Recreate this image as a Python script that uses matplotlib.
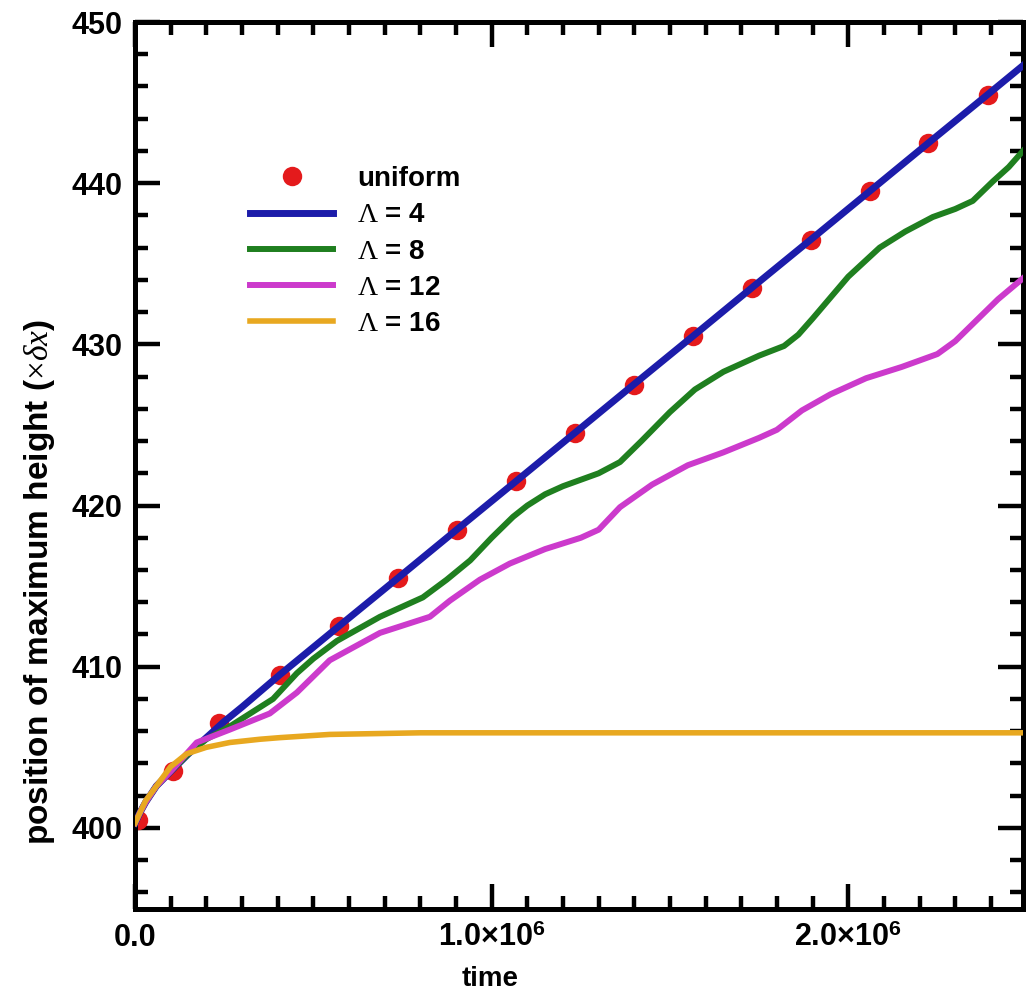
import matplotlib
matplotlib.use("Agg")
import matplotlib.pyplot as plt
from matplotlib.ticker import MultipleLocator

plt.rcParams['font.family'] = ['Liberation Sans', 'DejaVu Sans']
plt.rcParams['font.weight'] = 'bold'
plt.rcParams['mathtext.fontset'] = 'custom'
plt.rcParams['mathtext.rm'] = 'Liberation Serif:weight=regular'
plt.rcParams['mathtext.it'] = 'Liberation Serif:italic:weight=regular'
plt.rcParams['mathtext.bf'] = 'Liberation Sans:bold'
plt.rcParams['mathtext.fallback'] = 'stix'

# time axis in units of 1e6
uniform_t = [0.008, 0.107, 0.235, 0.406, 0.571, 0.737, 0.902, 1.068, 1.233,
             1.398, 1.564, 1.729, 1.895, 2.060, 2.225, 2.391]
uniform_y = [400.5, 403.5, 406.5, 409.5, 412.5, 415.5, 418.5, 421.5, 424.5,
             427.5, 430.5, 433.5, 436.5, 439.5, 442.5, 445.5]

lam4_t = [0.0, 0.015, 0.03, 0.06, 0.1, 0.15, 0.2, 0.25, 0.3, 0.406, 0.571,
          0.737, 0.902, 1.068, 1.233, 1.398, 1.564, 1.729, 1.895, 2.060,
          2.225, 2.391, 2.49]
lam4_y = [400.3, 401.0, 401.6, 402.6, 403.5, 404.6, 405.6, 406.6, 407.5,
          409.5, 412.5, 415.5, 418.5, 421.5, 424.5, 427.5, 430.5, 433.5,
          436.5, 439.5, 442.5, 445.5, 447.3]

lam8_t = [0.0, 0.015, 0.03, 0.06, 0.1, 0.15, 0.2, 0.266, 0.33, 0.387, 0.454,
          0.5, 0.566, 0.687, 0.807, 0.874, 0.94, 1.0, 1.06, 1.1, 1.15, 1.2,
          1.3, 1.36, 1.42, 1.5, 1.57, 1.65, 1.75, 1.82, 1.86, 1.9, 1.95, 2.0,
          2.088, 2.16, 2.237, 2.3, 2.349, 2.405, 2.45, 2.49]
lam8_y = [400.3, 401.0, 401.6, 402.6, 403.5, 404.6, 405.5, 406.3, 407.2,
          408.0, 409.6, 410.5, 411.6, 413.1, 414.3, 415.4, 416.6, 418.0,
          419.3, 420.0, 420.7, 421.2, 422.0, 422.7, 424.0, 425.8, 427.2,
          428.3, 429.3, 429.9, 430.6, 431.6, 432.9, 434.2, 436.0, 437.0,
          437.9, 438.4, 438.9, 440.1, 441.0, 442.0]

lam12_t = [0.0, 0.015, 0.03, 0.06, 0.1, 0.173, 0.266, 0.378, 0.454, 0.546,
           0.687, 0.827, 0.883, 0.967, 1.051, 1.15, 1.25, 1.3, 1.36, 1.45,
           1.55, 1.65, 1.75, 1.8, 1.87, 1.95, 2.05, 2.15, 2.25, 2.3, 2.36,
           2.42, 2.49]
lam12_y = [400.3, 401.0, 401.6, 402.6, 403.5, 405.3, 406.1, 407.1, 408.4,
           410.4, 412.1, 413.1, 414.1, 415.4, 416.4, 417.3, 418.0, 418.5,
           419.9, 421.3, 422.5, 423.3, 424.2, 424.7, 425.9, 426.9, 427.9,
           428.6, 429.4, 430.2, 431.5, 432.8, 434.1]

lam16_t = [0.0, 0.015, 0.03, 0.06, 0.1, 0.145, 0.2, 0.266, 0.35, 0.406,
           0.546, 0.8, 2.49]
lam16_y = [400.3, 401.0, 401.7, 402.6, 403.8, 404.6, 405.0, 405.3, 405.5,
           405.6, 405.8, 405.9, 405.9]

x_ticks = [0.0, 1.0e6, 2.0e6]
x_tick_labels = ['0.0', '1.0\u00d710$^{\\mathbf{6}}$', '2.0\u00d710$^{\\mathbf{6}}$']
y_ticks = [400, 410, 420, 430, 440, 450]

scale = 1.0e6

fig = plt.figure(figsize=(10.29, 10.06), dpi=100)
ax = fig.add_axes([135 / 1029, 1 - 908.5 / 1006, 888 / 1029, 886.5 / 1006])

ax.plot([t * scale for t in uniform_t], uniform_y, linestyle='none',
        marker='o', markersize=14, color='#e41a1c', markeredgewidth=0,
        label='uniform', zorder=2)
ax.plot([t * scale for t in lam4_t], lam4_y, color='#1c1caa', lw=5.0,
        label=r'$\Lambda$ = 4', zorder=3)
ax.plot([t * scale for t in lam8_t], lam8_y, color='#1f7f1f', lw=4.3,
        label=r'$\Lambda$ = 8', zorder=3)
ax.plot([t * scale for t in lam12_t], lam12_y, color='#cc3acc', lw=4.3,
        label=r'$\Lambda$ = 12', zorder=3)
ax.plot([t * scale for t in lam16_t], lam16_y, color='#e8a820', lw=4.0,
        label=r'$\Lambda$ = 16', zorder=3)

ax.set_xlim(0, 2.49e6)
ax.set_ylim(395, 450)

ax.set_xticks(x_ticks)
ax.set_xticklabels(x_tick_labels)
ax.xaxis.set_minor_locator(MultipleLocator(1.0e5))
ax.set_yticks(y_ticks)
ax.set_yticklabels([str(v) for v in y_ticks])
ax.yaxis.set_minor_locator(MultipleLocator(2))

ax.tick_params(which='both', direction='in', top=True, right=True,
               labelsize=22, width=3.2, color='black')
ax.tick_params(which='major', length=18)
ax.tick_params(which='minor', length=9.5)
ax.tick_params(axis='y', which='major', pad=9)
ax.tick_params(axis='x', which='major', pad=27)
for lab in ax.get_xticklabels():
    lab.set_verticalalignment('baseline')
    lab.set_fontweight('bold')
for lab in ax.get_yticklabels():
    lab.set_fontweight('bold')

for sp in ax.spines.values():
    sp.set_linewidth(3.6)

ax.set_xlabel('time', fontsize=20, fontweight='bold')
ax.xaxis.set_label_coords((490 - 135) / 888, -(966 - 908.5) / 886.5)
ax.set_ylabel(r'position of maximum height ($\times\delta x$)', fontsize=24,
              fontweight='bold')
ax.yaxis.set_label_coords((57 - 135) / 888, (908.5 - 582) / 886.5)

leg = ax.legend(loc='upper left', bbox_to_anchor=(250 / 1029, 1 - 166 / 1006),
                bbox_transform=fig.transFigure, frameon=False, fontsize=20,
                handlelength=3.0, handletextpad=0.85, labelspacing=0.37,
                borderpad=0, borderaxespad=0, numpoints=1)
for txt in leg.get_texts():
    txt.set_fontweight('bold')

fig.savefig('out.png', dpi=100, facecolor='white')
